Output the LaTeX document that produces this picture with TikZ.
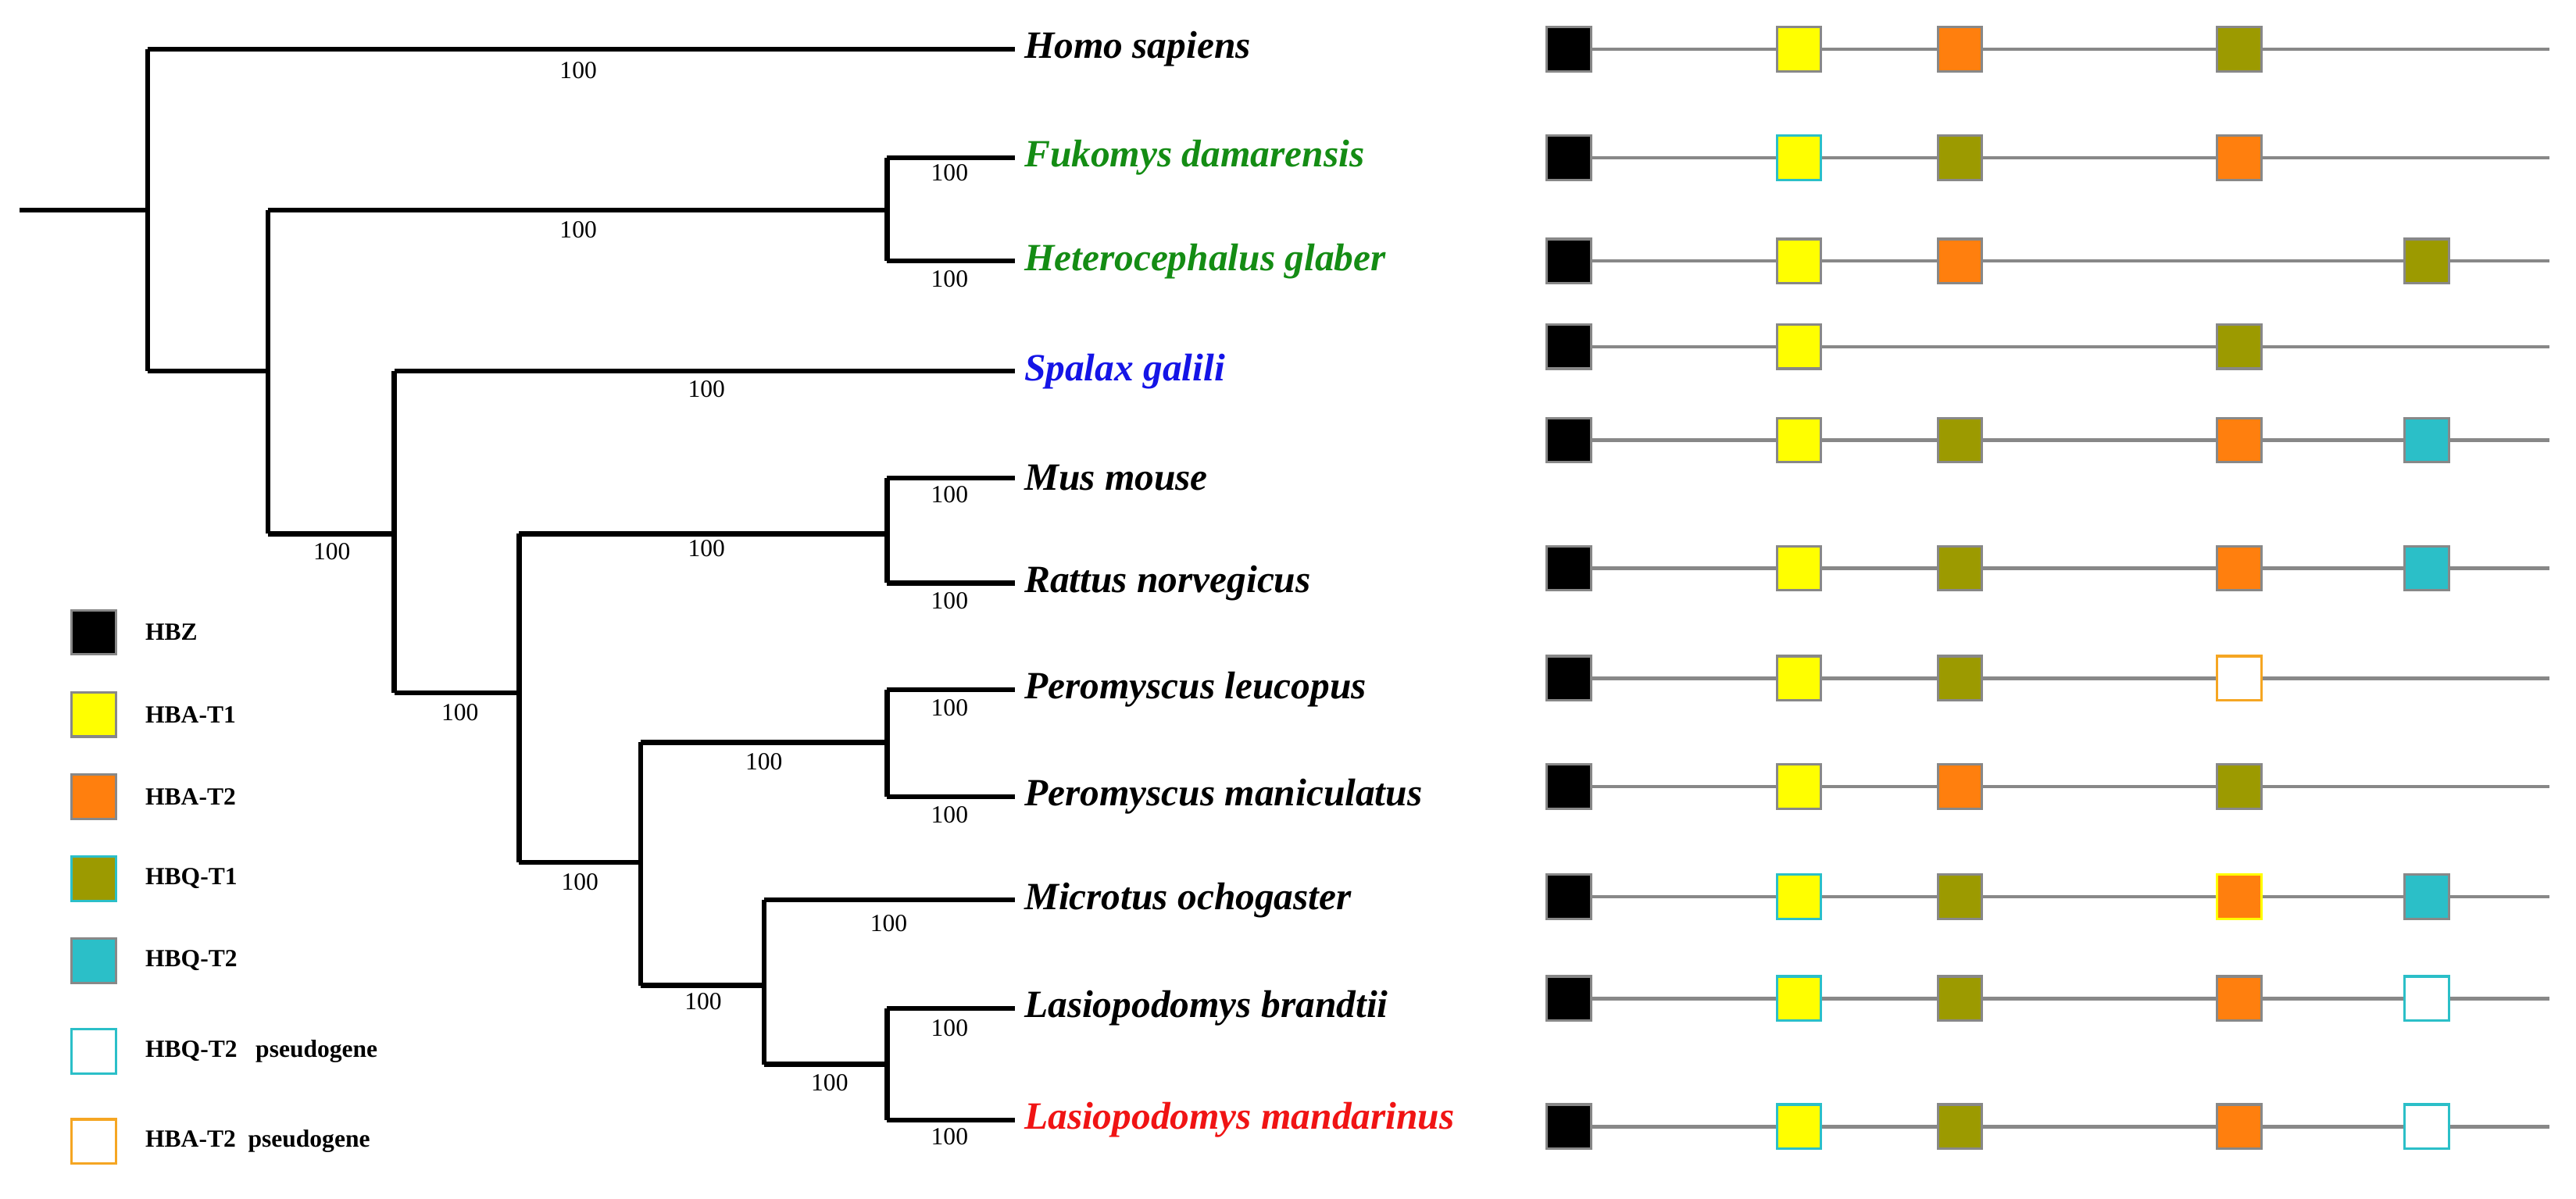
\documentclass[tikz,border=0pt]{standalone}
\usepackage{fontspec}
\setmainfont{Liberation Serif}
\begin{document}
\begin{tikzpicture}[x=1pt,y=-1pt]
\definecolor{cY}{HTML}{FFFF00}
\definecolor{cO}{HTML}{FF7F0E}
\definecolor{cQ}{HTML}{9C9A00}
\definecolor{cT}{HTML}{2BBFC8}
\definecolor{cE}{HTML}{F5A623}
\definecolor{cB}{HTML}{888888}
\tikzset{br/.style={line width=3pt},
 sp/.style={anchor=west,font=\fontsize{23.5}{23.5}\selectfont\bfseries\itshape},
 bs/.style={font=\fontsize{15}{15}\selectfont},
 bx/.style={draw=cB,line width=1.5pt,minimum size=27pt,inner sep=0pt},
 ps/.style={line width=2.5pt},
 lg/.style={anchor=west,font=\fontsize{15}{15}\selectfont\bfseries}}
\useasboundingbox (0,0) rectangle (1568,730);
% tree
\draw[br] (12,128)--(90,128);
\draw[br] (90,30)--(90,226);
\draw[br] (90,30)--(618,30);
\draw[br] (90,226)--(163,226);
\draw[br] (163,128)--(163,325);
\draw[br] (163,128)--(540,128);
\draw[br] (540,96)--(540,159);
\draw[br] (540,96)--(618,96);
\draw[br] (540,159)--(618,159);
\draw[br] (163,325)--(240,325);
\draw[br] (240,226)--(240,422);
\draw[br] (240,226)--(618,226);
\draw[br] (240,422)--(316,422);
\draw[br] (316,325)--(316,525);
\draw[br] (316,325)--(540,325);
\draw[br] (540,291)--(540,355);
\draw[br] (540,291)--(618,291);
\draw[br] (540,355)--(618,355);
\draw[br] (316,525)--(390,525);
\draw[br] (390,452)--(390,600);
\draw[br] (390,452)--(540,452);
\draw[br] (540,420)--(540,485);
\draw[br] (540,420)--(618,420);
\draw[br] (540,485)--(618,485);
\draw[br] (390,600)--(465,600);
\draw[br] (465,548)--(465,648);
\draw[br] (465,548)--(618,548);
\draw[br] (465,648)--(540,648);
\draw[br] (540,614)--(540,682);
\draw[br] (540,614)--(618,614);
\draw[br] (540,682)--(618,682);
\foreach \x/\y in {352/43,352/140,578/105,578/170,202/336,430/237,280/434,430/334,578/301,578/366,353/537,465/464,578/431,578/496,428/610,541/562,505/659,578/626,578/692}
  \node[bs] at (\x,\y) {100};
% species
\node[sp] (s1) at (620,30) {Homo sapiens};
\node[sp,text={rgb,255:red,20;green,140;blue,20}] (s2) at (620,96) {Fukomys damarensis};
\node[sp,text={rgb,255:red,20;green,140;blue,20}] (s3) at (620,159) {Heterocephalus glaber};
\node[sp,text={rgb,255:red,20;green,20;blue,230}] (s4) at (620,226) {Spalax galili};
\node[sp] (s5) at (620,291) {Mus mouse};
\node[sp] (s6) at (620,355) {Rattus norvegicus};
\node[sp] (s7) at (620,420) {Peromyscus leucopus};
\node[sp] (s8) at (620,485) {Peromyscus maniculatus};
\node[sp] (s9) at (620,548) {Microtus ochogaster};
\node[sp] (s10) at (620,614) {Lasiopodomys brandtii};
\node[sp,text={rgb,255:red,240;green,20;blue,20}] (s11) at (620,682) {Lasiopodomys mandarinus};
% gene rows
\foreach \r/\y/\g in {1/30/{1095/cY/cB,1193/cO/cB,1363/cQ/cB},
 2/96/{1095/cY/cT,1193/cQ/cB,1363/cO/cB},
 3/159/{1095/cY/cB,1193/cO/cB,1477/cQ/cB},
 4/211/{1095/cY/cB,1363/cQ/cB},
 5/268/{1095/cY/cB,1193/cQ/cB,1363/cO/cB,1477/cT/cB},
 6/346/{1095/cY/cB,1193/cQ/cB,1363/cO/cB,1477/cT/cB},
 7/413/{1095/cY/cB,1193/cQ/cB,1363/white/cE},
 8/479/{1095/cY/cB,1193/cO/cB,1363/cQ/cB},
 9/546/{1095/cY/cT,1193/cQ/cB,1363/cO/cY,1477/cT/cB},
 10/608/{1095/cY/cT,1193/cQ/cB,1363/cO/cB,1477/white/cT},
 11/686/{1095/cY/cT,1193/cQ/cB,1363/cO/cB,1477/white/cT}}{
  \coordinate (e\r) at (1552,\y);
  \node[bx,fill=black] (z\r) at (955,\y) {};
  \draw[cB,line width=2pt] (z\r)--(e\r);
  \foreach \x/\f/\d in \g {\node[bx,fill=\f,draw=\d] at (\x,\y) {};}
}
\foreach \r/\x in {7/1363,10/1477,11/1477}{}
% legend
\foreach \y/\f/\d/\t in {385/black/cB/HBZ,435/cY/cB/HBA-T1,485/cO/cB/HBA-T2,535/cQ/cT/HBQ-T1,585/cT/cB/HBQ-T2,640/white/cT/{HBQ-T2\ \ \ pseudogene},695/white/cE/{HBA-T2\ \ pseudogene}}{
  \node[bx,fill=\f,draw=\d] (l\y) at (57,\y) {};
  \node[lg] at (85,\y) {\t};
}
\end{tikzpicture}
\end{document}
